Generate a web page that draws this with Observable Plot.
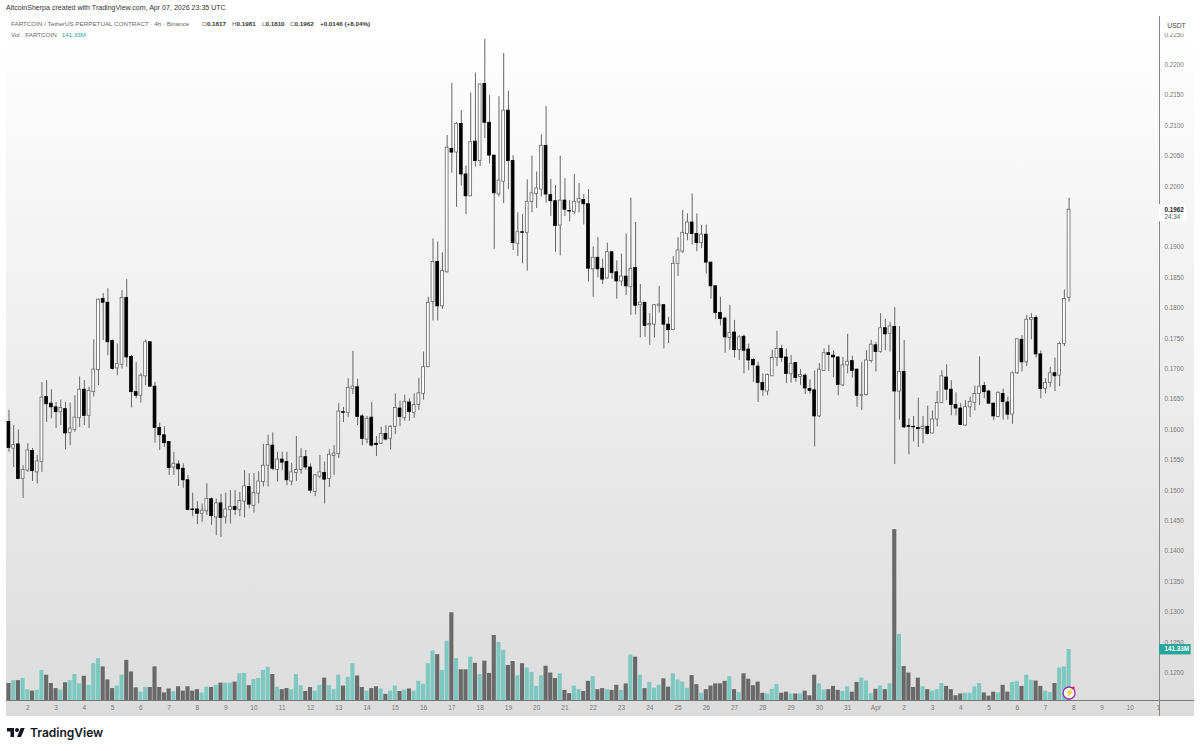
<!DOCTYPE html>
<html><head><meta charset="utf-8">
<script src="https://cdn.jsdelivr.net/npm/d3@7"></script>
<script src="https://cdn.jsdelivr.net/npm/@observablehq/plot@0.6"></script>
<style>
html,body{margin:0;padding:0;background:#fff;width:1200px;height:751px;overflow:hidden;font-family:"Liberation Sans",Arial,sans-serif}
#stage{position:relative;width:1200px;height:751px}
#pane{position:absolute;left:6px;top:16px;width:1188px;height:700px;background:linear-gradient(#fff 2%,#f6f6f6 25%,#ececec 55%,#dcdcdc 100%)}
#chart{position:absolute;left:0;top:16px}
#by{position:absolute;left:6px;top:3px;font-size:7.07px;line-height:10px;color:#333;white-space:nowrap}
#leg1,#leg2{position:absolute;left:11px;font-size:6.25px;line-height:10px;color:#666;white-space:nowrap}
#leg1{top:19px}#leg2{top:29.5px}
#leg1 b{color:#333;font-weight:bold}
#leg1 i{position:absolute;top:0;font-style:normal}
#leg2 span{color:#26a69a;margin-left:5px}
#usdt{position:absolute;left:1161px;top:18px;width:31px;height:15px;background:#fff;border-radius:2px;text-align:center;font-size:6.8px;line-height:15px;color:#444}
#logo{position:absolute;left:7px;top:725px;display:flex;align-items:center;gap:5px;font-family:Inter,"Liberation Sans",sans-serif;font-weight:600;font-size:12px;color:#131722}
</style></head><body>
<div id="stage">
<div id="pane"></div>
<div id="chart"></div>
<div id="by">AltcoinSherpa created with TradingView.com, Apr 07, 2026 23:35 UTC</div>
<div id="leg1">FARTCOIN / TetherUS PERPETUAL CONTRACT · 4h · Binance<i style="left:191px">O<b>0.1817</b></i><i style="left:221px">H<b>0.1981</b></i><i style="left:251px">L<b>0.1810</b></i><i style="left:279px">C<b>0.1962</b></i><i style="left:309px"><b>+0.0146 (+8.04%)</b></i></div>
<div id="leg2">Vol · FARTCOIN<span>141.33M</span></div>
<div id="usdt">USDT</div>
<div id="logo"><svg width="18" height="14" viewBox="0 0 36 28"><path fill="#131722" d="M14 22H7V11H0V4h14v18zM28 22h-8l7.5-18h8L28 22z"/><circle fill="#131722" cx="20" cy="8" r="4"/></svg><span>TradingView</span></div>
</div>
<script>
// Prices are listed in units of 0.0001 USDT, candle by candle (4h), first candle 2026-03-01 08:00 UTC.
const opensE4=[1613,1569,1576,1519,1533,1565,1530,1547,1654,1643,1637,1629,1634,1595,1600,1619,1666,1623,1662,1698,1815,1809,1746,1701,1707,1817,1720,1662,1656,1688,1744,1671,1603,1591,1580,1538,1543,1536,1517,1469,1469,1462,1466,1486,1456,1479,1456,1468,1473,1468,1482,1506,1475,1495,1514,1541,1574,1534,1551,1547,1515,1529,1534,1555,1538,1498,1523,1529,1519,1557,1560,1629,1628,1667,1670,1622,1584,1620,1577,1577,1593,1585,1605,1635,1619,1645,1628,1641,1659,1703,1810,1876,1803,1859,2062,2056,2103,2020,1984,2074,2042,2169,2105,2051,1987,2008,2125,2042,1906,1925,1924,1975,1988,1995,2067,1986,1976,1936,1977,1960,1958,1974,1978,1971,1864,1883,1865,1849,1892,1859,1844,1852,1835,1866,1805,1809,1772,1773,1804,1805,1773,1764,1873,1893,1922,1941,1922,1907,1921,1875,1836,1792,1783,1751,1760,1731,1753,1732,1715,1704,1677,1663,1688,1718,1733,1719,1692,1710,1687,1689,1667,1665,1622,1697,1726,1722,1719,1673,1706,1713,1699,1656,1657,1713,1739,1728,1767,1758,1769,1663,1695,1606,1605,1603,1601,1605,1594,1617,1644,1686,1666,1641,1635,1607,1637,1644,1659,1672,1663,1643,1621,1659,1645,1625,1693,1748,1711,1781,1784,1724,1667,1677,1693,1689,1741,1817];
const closesE4=[1570,1575,1519,1534,1566,1532,1548,1653,1642,1637,1629,1636,1594,1602,1620,1666,1623,1664,1699,1814,1809,1744,1700,1708,1817,1719,1662,1656,1689,1744,1671,1603,1591,1578,1537,1544,1535,1517,1468,1468,1462,1467,1486,1458,1479,1455,1469,1473,1468,1483,1507,1477,1496,1515,1541,1575,1536,1551,1546,1517,1530,1534,1555,1538,1500,1525,1530,1518,1559,1561,1630,1628,1669,1671,1621,1585,1618,1574,1575,1593,1584,1605,1636,1621,1646,1629,1641,1660,1703,1809,1876,1803,1861,2064,2056,2103,2020,1984,2073,2042,2168,2105,2051,1989,2010,2125,2042,1907,1925,1924,1975,1989,1997,2067,1987,1976,1935,1977,1962,1959,1975,1980,1971,1865,1883,1864,1847,1892,1858,1844,1852,1836,1865,1804,1809,1771,1774,1805,1806,1773,1764,1873,1895,1924,1941,1922,1907,1921,1875,1836,1792,1782,1752,1759,1731,1752,1730,1714,1706,1677,1665,1690,1718,1733,1718,1692,1708,1685,1690,1668,1664,1622,1699,1726,1723,1719,1674,1706,1712,1697,1656,1657,1714,1740,1728,1767,1757,1770,1663,1695,1604,1605,1604,1601,1605,1593,1617,1644,1688,1666,1641,1635,1608,1637,1646,1659,1671,1662,1643,1622,1661,1646,1625,1693,1749,1711,1781,1784,1724,1667,1677,1693,1688,1741,1815,1962];
const highsE4=[1632,1607,1600,1541,1577,1569,1558,1678,1681,1666,1645,1649,1645,1644,1656,1687,1681,1670,1748,1815,1824,1832,1748,1741,1829,1847,1722,1711,1692,1748,1744,1678,1611,1605,1580,1563,1549,1544,1525,1496,1482,1478,1511,1488,1486,1494,1496,1500,1500,1497,1533,1528,1528,1531,1576,1591,1595,1563,1563,1563,1545,1589,1569,1566,1544,1527,1558,1547,1567,1574,1643,1637,1684,1729,1683,1625,1622,1645,1589,1604,1607,1607,1659,1647,1657,1651,1659,1685,1728,1818,1914,1909,1891,2084,2170,2105,2125,2034,2154,2187,2169,2242,2150,2051,2148,2219,2157,2051,1957,1954,2011,2050,2024,2085,2132,2012,2002,2050,2013,1977,2020,2005,1987,1995,1901,1916,1881,1907,1892,1878,1889,1922,1981,1941,1839,1809,1791,1806,1836,1806,1785,1885,1916,1961,1955,1988,1955,1936,1937,1876,1837,1818,1785,1805,1780,1755,1756,1741,1717,1711,1692,1692,1731,1762,1739,1733,1722,1711,1699,1692,1682,1697,1709,1733,1739,1730,1720,1719,1757,1721,1700,1711,1730,1747,1744,1791,1782,1777,1801,1770,1747,1618,1622,1652,1622,1639,1631,1663,1697,1707,1681,1661,1643,1648,1654,1672,1720,1678,1665,1644,1662,1667,1654,1695,1750,1755,1788,1791,1788,1730,1684,1703,1718,1744,1830,1981];
const lowsE4=[1563,1538,1518,1487,1530,1515,1511,1530,1612,1618,1602,1607,1567,1574,1596,1604,1607,1602,1654,1673,1747,1722,1698,1689,1700,1703,1636,1651,1644,1673,1670,1578,1566,1571,1525,1525,1507,1504,1467,1457,1444,1448,1459,1443,1426,1423,1445,1445,1459,1457,1455,1470,1463,1478,1506,1506,1533,1514,1533,1508,1508,1515,1527,1533,1495,1490,1519,1478,1505,1525,1553,1612,1620,1658,1607,1574,1577,1572,1556,1576,1582,1567,1592,1605,1614,1614,1619,1632,1649,1702,1779,1779,1798,1858,2022,1966,2001,1954,1984,2032,2033,2079,2037,1897,1983,1972,1995,1895,1885,1873,1861,1957,1964,1983,1973,1951,1892,1886,1951,1942,1954,1957,1937,1843,1818,1850,1839,1848,1848,1815,1836,1821,1788,1789,1751,1752,1739,1751,1792,1733,1742,1763,1852,1890,1911,1904,1893,1898,1856,1815,1781,1771,1726,1731,1718,1714,1692,1697,1678,1645,1655,1656,1688,1704,1711,1676,1677,1678,1673,1658,1659,1572,1620,1696,1696,1686,1656,1671,1692,1685,1637,1632,1656,1710,1695,1726,1730,1728,1543,1616,1602,1559,1580,1571,1577,1591,1593,1605,1643,1648,1623,1623,1607,1606,1620,1631,1640,1651,1642,1615,1620,1616,1616,1609,1691,1695,1704,1748,1718,1651,1659,1670,1663,1671,1737,1810];
// Volume in millions of FARTCOIN
const volumesM=[47,55,55,61,30,26,28,83,70,47,33,29,49,55,72,46,67,42,102,116,93,57,33,40,70,111,79,35,23,36,36,93,36,21,32,24,38,26,38,26,30,21,37,36,42,48,48,48,51,74,75,41,58,61,83,92,72,37,30,33,30,72,41,25,36,26,42,62,41,30,70,40,64,102,68,36,26,33,38,32,17,26,40,25,29,32,26,53,45,102,137,127,83,164,243,116,85,85,120,103,72,109,75,180,161,139,97,108,68,102,90,78,39,68,95,76,61,74,28,19,40,30,25,53,66,30,33,30,28,42,28,46,126,120,70,33,50,34,42,60,37,74,57,51,34,69,44,20,30,40,46,46,53,66,30,22,74,59,41,51,20,18,31,44,20,23,18,18,18,26,13,70,46,29,30,39,28,25,38,23,50,62,54,19,31,40,30,46,473,183,94,76,36,62,38,30,26,30,47,39,30,13,18,20,20,38,47,21,12,23,21,42,23,50,53,39,70,56,54,39,26,22,47,90,93,141.33];

const yTicks=[0.12,0.125,0.13,0.135,0.14,0.145,0.15,0.155,0.16,0.165,0.17,0.175,0.18,0.185,0.19,0.2,0.205,0.21,0.215,0.22,0.225];
const marchDays=d3.range(2,32);
const aprilDays=[1,2,3,4,5,6,7,8,9,10,11];
const firstCandle=Date.UTC(2026,2,1,8);
const H=3600e3;
const priceDomain=[0.11548,0.22798];
const timeDomain=[new Date("2026-03-01T05:55Z"),new Date("2026-04-11T00:45Z")];
const paneEnd=new Date("2026-04-12T06:28Z");
const volUnit=5.94e-5; // price-axis height of one million volume
const volY=v=>priceDomain[0]+v*volUnit;

const candles=opensE4.map((o,i)=>({t:new Date(firstCandle+i*4*H),open:o/1e4,close:closesE4[i]/1e4,high:highsE4[i]/1e4,low:lowsE4[i]/1e4,vol:volumesM[i],up:closesE4[i]>=o}));
const last=candles[candles.length-1];
const shift=(d,h)=>new Date(+d+h*H);

const xTicks=[...marchDays.map(d=>({t:new Date(Date.UTC(2026,2,d)),s:String(d)})),
  ...aprilDays.map(d=>({t:new Date(Date.UTC(2026,3,d)),s:d===1?"Apr":d===11?"1":String(d)}))];
const tickColor="#777";

const plot=Plot.plot({
  width:1200,height:700,marginLeft:6,marginRight:41,marginTop:0,marginBottom:16,
  style:{background:"transparent",fontFamily:"Liberation Sans,Arial,sans-serif"},
  x:{type:"utc",domain:timeDomain,axis:null},
  y:{domain:priceDomain,axis:null},
  marks:[
    // volume
    Plot.rect(candles,{x1:d=>shift(d.t,-1.75),x2:d=>shift(d.t,1.75),y1:priceDomain[0],y2:d=>volY(d.vol),fill:d=>d.up?"#7fc8c0":"#696969",inset:0}),
    Plot.ruleY([priceDomain[0]],{x1:timeDomain[0],x2:paneEnd,stroke:"#777",strokeWidth:1}),
    // wicks
    Plot.ruleX(candles,{x:"t",y1:"low",y2:"high",stroke:"#666",strokeWidth:1}),
    // bodies
    Plot.rect(candles,{x1:d=>shift(d.t,-1.2),x2:d=>shift(d.t,1.2),y1:"open",y2:"close",fill:d=>d.up?"#fff":"#000",stroke:d=>d.up?"#666":"#000",strokeWidth:.8}),
    // price scale divider
    Plot.ruleX([timeDomain[1]],{y1:priceDomain[0]-0.0027,y2:priceDomain[1],stroke:"#888",strokeWidth:1}),
    // axes
    Plot.axisY(yTicks,{anchor:"right",tickSize:0,tickPadding:5,tickFormat:d=>d.toFixed(4),fontSize:6.3,color:tickColor,fill:tickColor,label:null}),
    Plot.text(xTicks,{x:"t",y:priceDomain[0],text:"s",dy:7.5,fontSize:6.5,fill:tickColor,textAnchor:d=>d.s==="1"&&+d.t===Date.UTC(2026,3,11)?"end":"middle"}),
    // last price tag
    Plot.rect([last],{x1:timeDomain[1],x2:new Date("2026-04-11T23:45Z"),y1:.1970,y2:.1942,fill:"#fff"}),
    Plot.text([last],{x:timeDomain[1],y:"close",text:()=>"0.1962",dx:5,textAnchor:"start",fontSize:6.3,fontWeight:"bold",fill:"#222"}),
    Plot.text([last],{x:timeDomain[1],y:"close",text:()=>"24:34",dx:5,dy:7.5,textAnchor:"start",fontSize:6.3,fill:"#555"}),
    // last volume tag
    Plot.rect([last],{x1:timeDomain[1],x2:new Date("2026-04-12T03:36Z"),y1:d=>volY(d.vol)+.0008,y2:d=>volY(d.vol)-.0009,fill:"#26a69a"}),
    Plot.text([last],{x:timeDomain[1],y:d=>volY(d.vol),text:()=>"141.33M",dx:5,textAnchor:"start",fontSize:6.3,fontWeight:"bold",fill:"#fff"}),
    // bolt badge
    Plot.dot([last],{x:"t",y:priceDomain[0],dy:-7.5,r:6,fill:"#fff",stroke:"#9c27b0",strokeWidth:1.3}),
    Plot.text([last],{x:"t",y:priceDomain[0],dy:-7.5,text:()=>"⚡",fontSize:7.5,fill:"#9c27b0"}),
    Plot.dot([last],{x:"t",y:priceDomain[0],dx:4.2,dy:-12.5,r:1.4,fill:"#e91e63"})
  ]
});
document.getElementById("chart").appendChild(plot);
</script>
</body></html>
